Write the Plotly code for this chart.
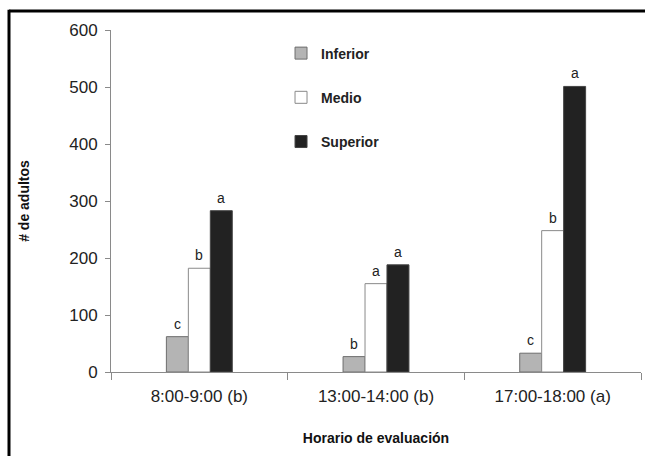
import plotly.graph_objects as go

categories = ["8:00-9:00 (b)", "13:00-14:00 (b)", "17:00-18:00 (a)"]
series_names = ["Inferior", "Medio", "Superior"]
inferior = [62, 27, 33]
medio = [182, 155, 248]
superior = [283, 188, 501]
letters_inferior = ["c", "b", "c"]
letters_medio = ["b", "a", "b"]
letters_superior = ["a", "a", "a"]

FONT = "Liberation Sans, Arial, sans-serif"
fills = ["#b4b4b4", "#ffffff", "#222222"]
lines = ["#6e6e6e", "#8a8a8a", "#444444"]

fig = go.Figure()
all_vals = [inferior, medio, superior]
for i, (name, vals) in enumerate(zip(series_names, all_vals)):
    fig.add_trace(go.Bar(
        x=categories, y=vals, name=name,
        marker=dict(color=fills[i], line=dict(color=lines[i], width=1)),
        legendgroup=name,
    ))

letters = [letters_inferior, letters_medio, letters_superior]
offsets = [-22, 0, 22]
for i in range(3):
    for j, cat in enumerate(categories):
        fig.add_annotation(
            x=cat, y=all_vals[i][j], text=letters[i][j], showarrow=False,
            xshift=offsets[i], yanchor="bottom", yshift=3,
            font=dict(family=FONT, size=14, color="#222222"),
        )

# border lines (top and left)
left_x = (9 - 111) / 530
top_y = 1 + (30 - 11) / 342
fig.add_shape(type="line", xref="paper", yref="paper",
              x0=left_x, x1=1.05, y0=top_y, y1=top_y,
              line=dict(color="black", width=3))
fig.add_shape(type="line", xref="paper", yref="paper",
              x0=left_x, x1=left_x, y0=top_y + 0.004, y1=-0.3,
              line=dict(color="black", width=3))

fig.update_layout(
    width=645, height=456,
    margin=dict(l=111, r=4, t=30, b=84),
    paper_bgcolor="white", plot_bgcolor="white",
    barmode="group", bargap=0.627, bargroupgap=0,
    font=dict(family=FONT, size=17, color="#222222"),
    legend=dict(
        x=0.3208, y=0.978, xanchor="left", yanchor="top",
        bgcolor="rgba(0,0,0,0)", tracegroupgap=23,
        font=dict(family=FONT, size=14, color="#222222", weight="bold"),
        itemwidth=30,
    ),
    xaxis=dict(
        showline=True, linecolor="#8a8a8a", linewidth=1,
        tickson="boundaries", ticks="outside", ticklen=7, tickcolor="#8a8a8a",
        ticklabelstandoff=9,
        tickfont=dict(family=FONT, size=17, color="#222222"),
        title=dict(text="Horario de evaluación", standoff=27,
                   font=dict(family=FONT, size=14, color="#111111", weight="bold")),
        showgrid=False, zeroline=False,
    ),
    yaxis=dict(
        range=[0, 600], dtick=100,
        showline=True, linecolor="#8a8a8a", linewidth=1,
        ticks="outside", ticklen=5, tickcolor="#8a8a8a",
        ticklabelstandoff=4,
        tickfont=dict(family=FONT, size=17, color="#222222"),
        title=dict(text="# de adultos", standoff=36,
                   font=dict(family=FONT, size=14, color="#111111", weight="bold")),
        showgrid=False, zeroline=False,
    ),
)

fig.write_html(
    "out.html",
    config={"displayModeBar": False},
    post_script="document.body.style.margin='0';document.body.style.overflow='hidden';",
)
